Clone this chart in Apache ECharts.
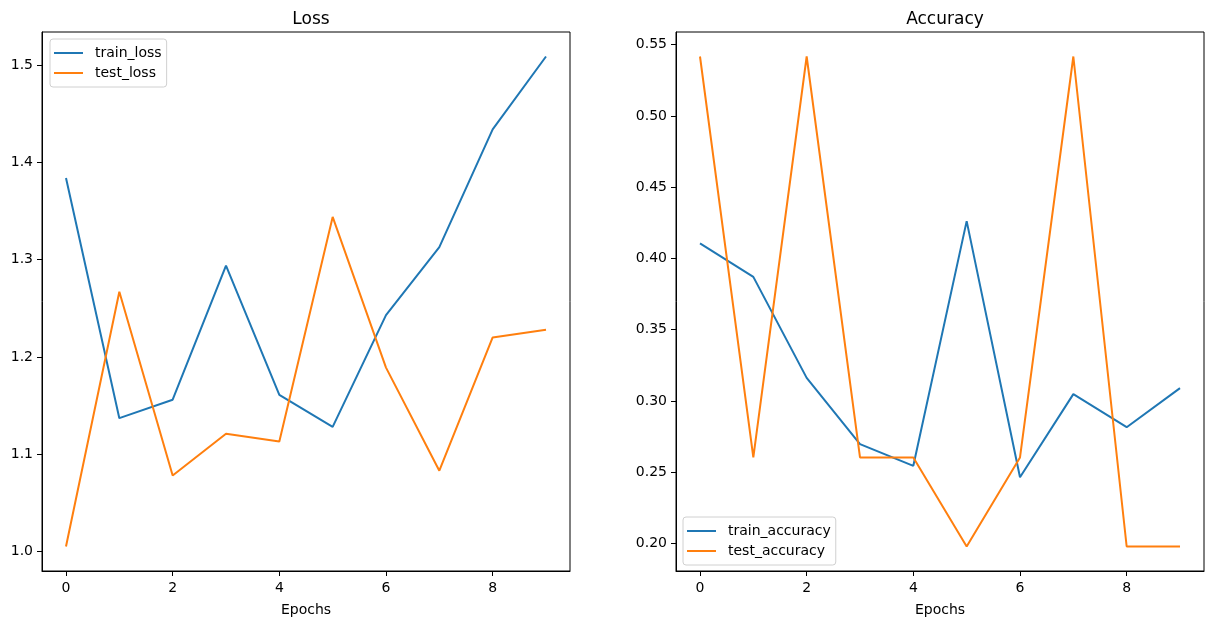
<!DOCTYPE html>
<html>
<head>
<meta charset="utf-8">
<script src="https://cdn.jsdelivr.net/npm/echarts@6/dist/echarts.min.js"></script>
<style>
html,body{margin:0;padding:0;background:#fff;}
#chart{width:1214px;height:624px;}
</style>
</head>
<body>
<div id="chart"></div>
<script>
const epochs = [0, 1, 2, 3, 4, 5, 6, 7, 8, 9];
const trainLoss = [1.384, 1.137, 1.156, 1.294, 1.161, 1.128, 1.243, 1.313, 1.434, 1.509];
const testLoss = [1.005, 1.267, 1.078, 1.121, 1.113, 1.344, 1.189, 1.083, 1.220, 1.228];
const trainAcc = [0.4106, 0.3871, 0.3162, 0.2697, 0.2545, 0.4262, 0.2465, 0.3048, 0.2816, 0.3090];
const testAcc = [0.5417, 0.2604, 0.5417, 0.2604, 0.2604, 0.1979, 0.2604, 0.5417, 0.1979, 0.1979];
const xTicks = [0, 2, 4, 6, 8];
const lossTicks = [1.0, 1.1, 1.2, 1.3, 1.4, 1.5];
const accTicks = [0.20, 0.25, 0.30, 0.35, 0.40, 0.45, 0.50, 0.55];

const FONT = 'DejaVu Sans';
const BLUE = '#1f77b4', ORANGE = '#ff7f0e';

function pad(arrs) {
  const all = [].concat(...arrs);
  const mn = Math.min(...all), mx = Math.max(...all);
  const m = (mx - mn) * 0.05;
  return [mn - m, mx + m];
}
const xr = pad([epochs]);
const lr = pad([trainLoss, testLoss]);
const ar = pad([trainAcc, testAcc]);
const pairs = (ys) => epochs.map((x, i) => [x, ys[i]]);

function xAxis(idx) {
  return {
    type: 'value', gridIndex: idx, min: xr[0], max: xr[1],
    name: 'Epochs', nameLocation: 'middle', nameGap: 32,
    nameTextStyle: { fontFamily: FONT, fontSize: 14, color: '#000' },
    axisLine: { show: true, onZero: false, lineStyle: { color: '#000', width: 1 } },
    axisTick: { show: true, length: 5, lineStyle: { color: '#000' }, customValues: xTicks },
    axisLabel: { fontFamily: FONT, fontSize: 14, color: '#000', margin: 10, customValues: xTicks },
    splitLine: { show: false }
  };
}
function yAxis(idx, r, ticks, dec) {
  return {
    type: 'value', gridIndex: idx, min: r[0], max: r[1],
    axisLine: { show: true, onZero: false, lineStyle: { color: '#000', width: 1 } },
    axisTick: { show: true, length: 5, lineStyle: { color: '#000' }, customValues: ticks },
    axisLabel: { fontFamily: FONT, fontSize: 14, color: '#000', margin: 9, customValues: ticks,
      formatter: v => Number(v).toFixed(dec) },
    splitLine: { show: false }
  };
}
function line(name, data, color, idx) {
  return {
    name, type: 'line', xAxisIndex: idx, yAxisIndex: idx, data,
    showSymbol: false, symbol: 'none',
    lineStyle: { color, width: 2 }, itemStyle: { color }
  };
}
const legendCommon = {
  orient: 'vertical', icon: 'rect', itemWidth: 29, itemHeight: 2, itemGap: 6,
  backgroundColor: '#fff', borderColor: '#d0d0d0', borderWidth: 1, borderRadius: 3,
  padding: [7, 5, 7, 4],
  textStyle: { fontFamily: FONT, fontSize: 14, color: '#000', padding: [0, 0, 0, 7] }
};

const chart = echarts.init(document.getElementById('chart'), null, { renderer: 'canvas' });
chart.setOption({
  animation: false,
  backgroundColor: '#fff',
  title: [
    { text: 'Loss', left: 306, top: 6, textAlign: 'center',
      textStyle: { fontFamily: FONT, fontSize: 17, fontWeight: 'normal', color: '#000' } },
    { text: 'Accuracy', left: 940, top: 6, textAlign: 'center',
      textStyle: { fontFamily: FONT, fontSize: 17, fontWeight: 'normal', color: '#000' } }
  ],
  grid: [
    { left: 42, top: 32, width: 528, height: 539, show: true, borderColor: '#000', borderWidth: 1,
      backgroundColor: 'transparent', outerBoundsMode: 'none', containLabel: false },
    { left: 676, top: 32, width: 528, height: 539, show: true, borderColor: '#000', borderWidth: 1,
      backgroundColor: 'transparent', outerBoundsMode: 'none', containLabel: false }
  ],
  legend: [
    Object.assign({}, legendCommon, { data: ['train_loss', 'test_loss'], left: 50, top: 39 }),
    Object.assign({}, legendCommon, { data: ['train_accuracy', 'test_accuracy'], left: 683, top: 517 })
  ],
  xAxis: [xAxis(0), xAxis(1)],
  yAxis: [yAxis(0, lr, lossTicks, 1), yAxis(1, ar, accTicks, 2)],
  series: [
    line('train_loss', pairs(trainLoss), BLUE, 0),
    line('test_loss', pairs(testLoss), ORANGE, 0),
    line('train_accuracy', pairs(trainAcc), BLUE, 1),
    line('test_accuracy', pairs(testAcc), ORANGE, 1)
  ]
});
</script>
</body>
</html>
